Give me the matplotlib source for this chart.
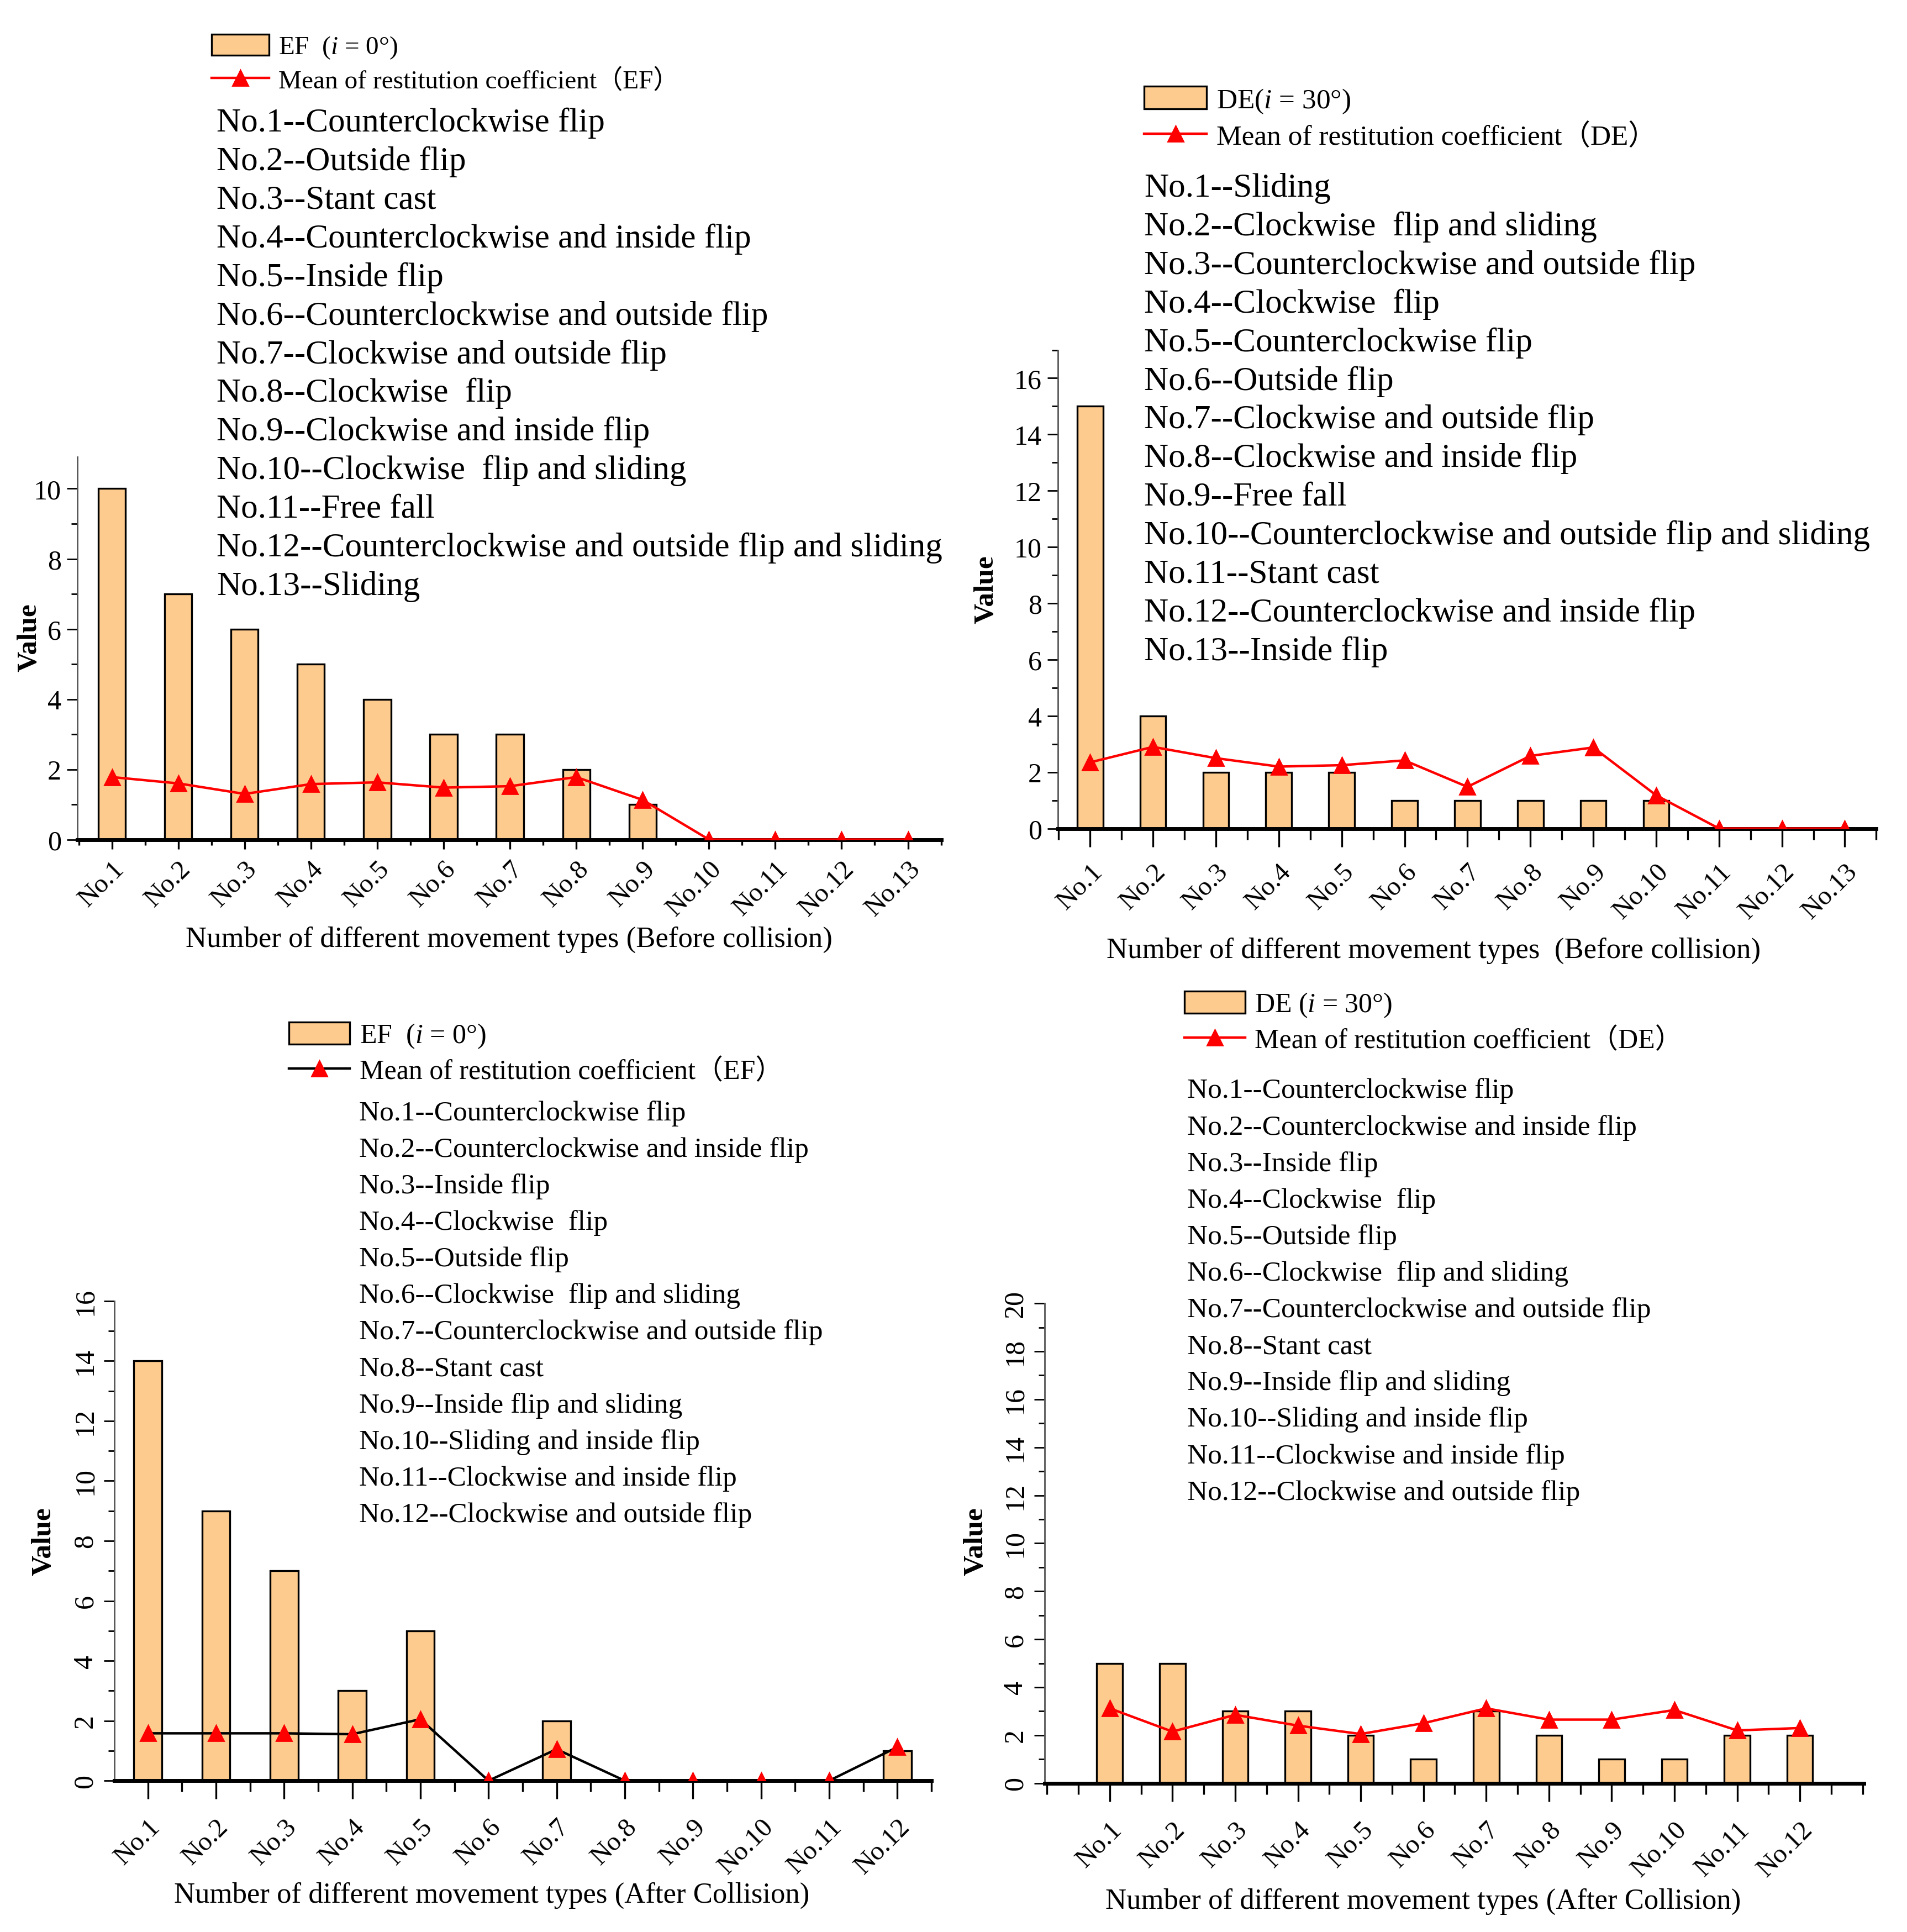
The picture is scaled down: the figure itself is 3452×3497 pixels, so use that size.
import matplotlib
matplotlib.use('Agg')
import matplotlib.pyplot as plt
from matplotlib.ticker import MultipleLocator

plt.rcParams['font.family'] = ['Liberation Serif', 'Noto Sans CJK SC']
plt.rcParams['mathtext.fontset'] = 'custom'
plt.rcParams['mathtext.rm'] = 'Liberation Serif'
plt.rcParams['mathtext.it'] = 'Liberation Serif:italic'

BAR_COLOR = '#FDCB8D'

# ---- data ----
labels_13 = ['No.1', 'No.2', 'No.3', 'No.4', 'No.5', 'No.6', 'No.7',
             'No.8', 'No.9', 'No.10', 'No.11', 'No.12', 'No.13']
labels_12 = labels_13[:12]

ef_before_counts = [10, 7, 6, 5, 4, 3, 3, 2, 1, 0, 0, 0, 0]
ef_before_mean = [1.78, 1.6, 1.3, 1.58, 1.63, 1.48, 1.52, 1.78, 1.13, 0, 0, 0, 0]
ef_before_types = [
    'No.1--Counterclockwise flip',
    'No.2--Outside flip',
    'No.3--Stant cast',
    'No.4--Counterclockwise and inside flip',
    'No.5--Inside flip',
    'No.6--Counterclockwise and outside flip',
    'No.7--Clockwise and outside flip',
    'No.8--Clockwise  flip',
    'No.9--Clockwise and inside flip',
    'No.10--Clockwise  flip and sliding',
    'No.11--Free fall',
    'No.12--Counterclockwise and outside flip and sliding',
    'No.13--Sliding',
]

de_before_counts = [15, 4, 2, 2, 2, 1, 1, 1, 1, 1, 0, 0, 0]
de_before_mean = [2.35, 2.9, 2.5, 2.2, 2.25, 2.42, 1.48, 2.58, 2.88, 1.18, 0, 0, 0]
de_before_types = [
    'No.1--Sliding',
    'No.2--Clockwise  flip and sliding',
    'No.3--Counterclockwise and outside flip',
    'No.4--Clockwise  flip',
    'No.5--Counterclockwise flip',
    'No.6--Outside flip',
    'No.7--Clockwise and outside flip',
    'No.8--Clockwise and inside flip',
    'No.9--Free fall',
    'No.10--Counterclockwise and outside flip and sliding',
    'No.11--Stant cast',
    'No.12--Counterclockwise and inside flip',
    'No.13--Inside flip',
]

ef_after_counts = [14, 9, 7, 3, 5, 0, 2, 0, 0, 0, 0, 1]
ef_after_mean = [1.58, 1.58, 1.58, 1.55, 2.05, 0, 1.05, 0, 0, 0, 0, 1.12]
ef_after_types = [
    'No.1--Counterclockwise flip',
    'No.2--Counterclockwise and inside flip',
    'No.3--Inside flip',
    'No.4--Clockwise  flip',
    'No.5--Outside flip',
    'No.6--Clockwise  flip and sliding',
    'No.7--Counterclockwise and outside flip',
    'No.8--Stant cast',
    'No.9--Inside flip and sliding',
    'No.10--Sliding and inside flip',
    'No.11--Clockwise and inside flip',
    'No.12--Clockwise and outside flip',
]

de_after_counts = [5, 5, 3, 3, 2, 1, 3, 2, 1, 1, 2, 2]
de_after_mean = [3.12, 2.15, 2.85, 2.4, 2.05, 2.5, 3.12, 2.65, 2.65, 3.05, 2.2, 2.3]
de_after_types = [
    'No.1--Counterclockwise flip',
    'No.2--Counterclockwise and inside flip',
    'No.3--Inside flip',
    'No.4--Clockwise  flip',
    'No.5--Outside flip',
    'No.6--Clockwise  flip and sliding',
    'No.7--Counterclockwise and outside flip',
    'No.8--Stant cast',
    'No.9--Inside flip and sliding',
    'No.10--Sliding and inside flip',
    'No.11--Clockwise and inside flip',
    'No.12--Clockwise and outside flip',
]

fig = plt.figure(figsize=(17.26, 17.49), dpi=200)


def draw_panel(rect, labels, counts, means, line_color, xlim, ymax,
               bar_label, line_label, xlabel, legend_xy, leg_fs,
               types, types_xy, types_step, types_fs,
               ylabel_xy, xlabel_xy, rot_y=False, xtick_len=12, xtick_pad=8):
    ax = fig.add_axes(rect)
    x = list(range(len(labels)))
    bars = ax.bar(x, counts, width=0.41, color=BAR_COLOR, edgecolor='black',
                  linewidth=1.2, label=bar_label, zorder=2)
    line, = ax.plot(x, means, color=line_color, lw=1.6, marker='^',
                    markersize=10, markerfacecolor='red',
                    markeredgecolor='red', label=line_label, zorder=3)
    ax.set_xlim(*xlim)
    ax.set_ylim(0, ymax)
    ax.set_xticks(x)
    ax.set_xticklabels(labels, rotation=45, ha='right',
                       rotation_mode='anchor', fontsize=17.5)
    ax.xaxis.set_minor_locator(MultipleLocator(0.5))
    ax.yaxis.set_major_locator(MultipleLocator(2))
    ax.yaxis.set_minor_locator(MultipleLocator(1))
    ax.tick_params(axis='x', which='major', direction='out', length=xtick_len,
                   width=1.2, pad=xtick_pad)
    ax.tick_params(axis='x', which='minor', direction='out',
                   length=xtick_len * 0.6, width=1.2)
    ax.tick_params(axis='y', which='major', direction='out', length=7,
                   width=1.0, labelsize=18)
    ax.tick_params(axis='y', which='minor', direction='out', length=4,
                   width=1.0)
    if rot_y:
        for t in ax.get_yticklabels():
            t.set_rotation(90)
            t.set_va('center')
    for s in ['top', 'right']:
        ax.spines[s].set_visible(False)
    ax.spines['bottom'].set_linewidth(2.5)
    ax.spines['left'].set_linewidth(1.0)
    ax.spines['left'].set_color('#555555')
    ax.set_ylabel('Value', fontsize=18.5, fontweight='bold')
    ax.yaxis.set_label_coords(*ylabel_xy)
    ax.set_xlabel(xlabel, fontsize=19)
    ax.xaxis.set_label_coords(*xlabel_xy)

    fig.legend(handles=[bars, line], loc='upper left',
               bbox_to_anchor=legend_xy, bbox_transform=fig.transFigure,
               frameon=False, fontsize=leg_fs, borderpad=0, borderaxespad=0,
               handlelength=2.2, handleheight=0.85, handletextpad=0.35,
               labelspacing=0.3)
    for k, txt in enumerate(types):
        fig.text(types_xy[0], types_xy[1] - k * types_step, txt,
                 fontsize=types_fs, va='center', ha='left')
    return ax


draw_panel([0.0406, 0.5653, 0.4529, 0.1979], labels_13, ef_before_counts,
           ef_before_mean, 'red', (-0.52, 12.5), 10.9,
           'EF  ($\\mathit{i}$ = 0°)', 'Mean of restitution coefficient（EF）',
           'Number of different movement types (Before collision)',
           (0.111, 0.982), 17, ef_before_types, (0.1135, 0.9363), 0.01999, 22,
           (-0.041, 0.53), (0.5, -0.226), xtick_len=6, xtick_pad=5)

draw_panel([0.5548, 0.5710, 0.4291, 0.2476], labels_13, de_before_counts,
           de_before_mean, 'red', (-0.51, 12.5), 17,
           'DE($\\mathit{i}$ = 30°)', 'Mean of restitution coefficient（DE）',
           'Number of different movement types  (Before collision)',
           (0.600, 0.955), 18.5, de_before_types, (0.600, 0.9026), 0.01999, 22,
           (-0.072, 0.50), (0.459, -0.226))

draw_panel([0.0600, 0.0783, 0.4284, 0.2482], labels_12, ef_after_counts,
           ef_after_mean, 'black', (-0.49, 11.5), 16,
           'EF  ($\\mathit{i}$ = 0°)', 'Mean of restitution coefficient（EF）',
           'Number of different movement types (After Collision)',
           (0.1516, 0.471), 18, ef_after_types, (0.1884, 0.4239), 0.0189, 18.5,
           (-0.071, 0.50), (0.462, -0.210), rot_y=True, xtick_pad=10)

draw_panel([0.5477, 0.0770, 0.4297, 0.2483], labels_12, de_after_counts,
           de_after_mean, 'red', (-1.04, 12.02), 20,
           'DE ($\\mathit{i}$ = 30°)', 'Mean of restitution coefficient（DE）',
           'Number of different movement types (After Collision)',
           (0.621, 0.487), 18, de_after_types, (0.6226, 0.4354), 0.0189, 18.5,
           (-0.068, 0.505), (0.462, -0.218), rot_y=True, xtick_pad=10)

fig.savefig('out.png', dpi=200, facecolor='white')
